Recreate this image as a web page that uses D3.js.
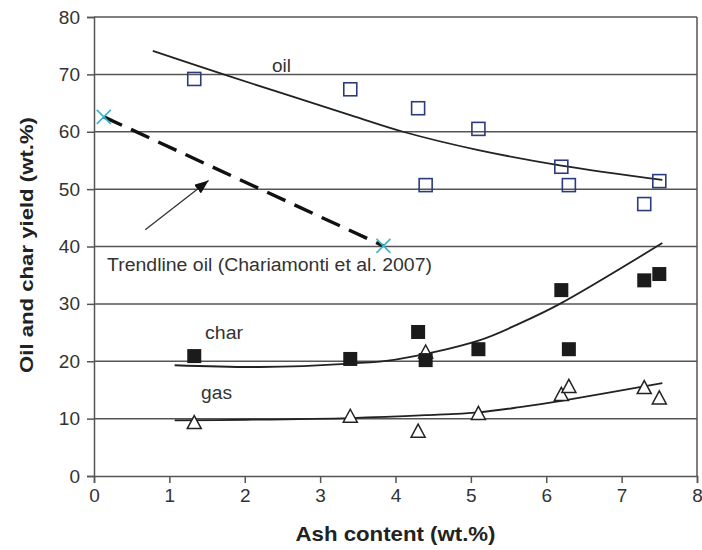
<!DOCTYPE html>
<html>
<head>
<meta charset="utf-8">
<script src="https://cdn.jsdelivr.net/npm/d3@7/dist/d3.min.js"></script>
<style>
  html, body { margin: 0; padding: 0; background: #fff; }
  svg { display: block; font-family: "Liberation Sans", Arial, Helvetica, sans-serif; }
</style>
</head>
<body>
<svg id="chart" width="702" height="550"></svg>
<script>
// Measured yields versus ash content
const ash        = [1.33, 3.4, 4.3, 4.4, 5.1, 6.2, 6.3, 7.3, 7.5];
const oilYield   = [69.2, 67.4, 64.1, 50.7, 60.5, 53.9, 50.7, 47.4, 51.4];
const charYield  = [20.9, 20.4, 25.1, 20.2, 22.1, 32.4, 22.1, 34.1, 35.2];
const gasYield   = [9.4, 10.5, 7.9, 21.7, 11.0, 14.3, 15.7, 15.5, 13.7];

// Fitted trend curves
const oilFitAsh    = [0.78, 1.72, 3.4, 4.1, 5.1, 6.2, 7.54];
const oilFitYield  = [74.1, 70.0, 62.9, 60.0, 56.8, 54.1, 51.6];
const charFitAsh   = [1.07, 2.2, 3.4, 4.0, 5.1, 5.65, 6.18, 7.54];
const charFitYield = [19.3, 19.0, 19.6, 20.3, 23.6, 26.6, 30.0, 40.6];
const gasFitAsh    = [1.07, 2.0, 3.4, 4.4, 5.1, 5.65, 6.2, 7.54];
const gasFitYield  = [9.7, 9.8, 10.1, 10.6, 11.1, 12.0, 13.1, 16.2];

// Literature oil trendline (Chariamonti et al. 2007)
const litAsh   = [0.13, 3.84];
const litYield = [62.6, 40.1];

// Annotation arrow: tail, then tip
const arrowAsh   = [0.68, 1.52];
const arrowYield = [42.9, 51.5];

// Axis ticks
const xTicks = [0, 1, 2, 3, 4, 5, 6, 7, 8];
const yTicks = [0, 10, 20, 30, 40, 50, 60, 70, 80];

const svg = d3.select("#chart");
const x = d3.scaleLinear().domain([0, 8]).range([94, 697]);
const y = d3.scaleLinear().domain([0, 80]).range([476, 17]);

const gridColor = "#555";
const textColor = "#333";

// Horizontal gridlines
svg.append("g").selectAll("line")
  .data(yTicks.filter(d => d > 0))
  .join("line")
  .attr("x1", x(0)).attr("x2", x(8))
  .attr("y1", d => y(d)).attr("y2", d => y(d))
  .attr("stroke", gridColor).attr("stroke-width", 1.5);

// Right frame edge
svg.append("line")
  .attr("x1", x(8)).attr("x2", x(8)).attr("y1", y(80)).attr("y2", y(0))
  .attr("stroke", gridColor).attr("stroke-width", 1.5);

// Axes
const yAxis = d3.axisLeft(y).tickValues(yTicks).tickSize(7).tickPadding(7).tickFormat(d3.format("d"));
const xAxis = d3.axisBottom(x).tickValues(xTicks).tickSize(7).tickPadding(6).tickFormat(d3.format("d"));

const gy = svg.append("g").attr("transform", `translate(${x(0)},0)`).call(yAxis);
const gx = svg.append("g").attr("transform", `translate(0,${y(0)})`).call(xAxis);
[gx, gy].forEach(g => {
  g.select(".domain").attr("stroke", gridColor).attr("stroke-width", 1.5);
  g.selectAll(".tick line").attr("stroke", gridColor).attr("stroke-width", 1.5);
  g.selectAll(".tick text")
    .attr("fill", textColor)
    .style("font-family", '"Liberation Sans", Arial, sans-serif')
    .style("font-size", "19px");
});

// Axis titles
svg.append("text")
  .attr("x", (x(0) + x(8)) / 2).attr("y", 541)
  .attr("text-anchor", "middle")
  .attr("textLength", 200).attr("lengthAdjust", "spacingAndGlyphs")
  .style("font-size", "21px").style("font-weight", "bold")
  .attr("fill", "#222")
  .text("Ash content (wt.%)");

svg.append("text")
  .attr("transform", "translate(33,373) rotate(-90)")
  .attr("textLength", 256).attr("lengthAdjust", "spacingAndGlyphs")
  .style("font-size", "19px").style("font-weight", "bold")
  .attr("fill", "#222")
  .text("Oil and char yield (wt.%)");

// Trend curves
const curve = d3.line().x(d => x(d[0])).y(d => y(d[1])).curve(d3.curveCatmullRom.alpha(0.5));
const fits = [
  [oilFitAsh, oilFitYield],
  [charFitAsh, charFitYield],
  [gasFitAsh, gasFitYield]
];
svg.append("g").selectAll("path")
  .data(fits.map(([a, v]) => a.map((d, i) => [d, v[i]])))
  .join("path")
  .attr("d", curve)
  .attr("fill", "none")
  .attr("stroke", "#222")
  .attr("stroke-width", 1.8);

// Literature trendline (dashed)
const litPts = litAsh.map((d, i) => [d, litYield[i]]);
svg.append("path")
  .attr("d", d3.line().x(d => x(d[0])).y(d => y(d[1]))(litPts))
  .attr("fill", "none")
  .attr("stroke", "#111")
  .attr("stroke-width", 3.4)
  .attr("stroke-dasharray", "20,10");

// Cross markers at the literature line ends
const cross = svg.append("g").selectAll("g")
  .data(litPts).join("g")
  .attr("transform", d => `translate(${x(d[0])},${y(d[1])})`);
cross.append("path")
  .attr("d", "M-7,-7L7,7M-7,7L7,-7")
  .attr("stroke", "#3cb4c6").attr("stroke-width", 1.6).attr("fill", "none");

// Gas: open triangles
const tri = 14, triH = 13;
svg.append("g").selectAll("path")
  .data(ash.map((d, i) => [d, gasYield[i]]))
  .join("path")
  .attr("transform", d => `translate(${x(d[0])},${y(d[1])})`)
  .attr("d", `M0,${-triH / 2}L${tri / 2},${triH / 2}L${-tri / 2},${triH / 2}Z`)
  .attr("fill", "#fff")
  .attr("stroke", "#222")
  .attr("stroke-width", 1.5);

// Char: filled squares
const sq = 14;
svg.append("g").selectAll("rect")
  .data(ash.map((d, i) => [d, charYield[i]]))
  .join("rect")
  .attr("x", d => x(d[0]) - sq / 2).attr("y", d => y(d[1]) - sq / 2)
  .attr("width", sq).attr("height", sq)
  .attr("fill", "#1b1b1b");

// Oil: open squares
const osq = 13;
svg.append("g").selectAll("rect")
  .data(ash.map((d, i) => [d, oilYield[i]]))
  .join("rect")
  .attr("x", d => x(d[0]) - osq / 2).attr("y", d => y(d[1]) - osq / 2)
  .attr("width", osq).attr("height", osq)
  .attr("fill", "none")
  .attr("stroke", "#2d3a7c")
  .attr("stroke-width", 1.6);

// Arrow pointing at the literature line
svg.append("defs").append("marker")
  .attr("id", "head")
  .attr("viewBox", "0 0 14 11")
  .attr("refX", 14).attr("refY", 5.5)
  .attr("markerWidth", 14).attr("markerHeight", 11)
  .attr("markerUnits", "userSpaceOnUse")
  .attr("orient", "auto")
  .append("path").attr("d", "M0,0L14,5.5L0,11Z").attr("fill", "#111");

svg.append("line")
  .attr("x1", x(arrowAsh[0])).attr("y1", y(arrowYield[0]))
  .attr("x2", x(arrowAsh[1])).attr("y2", y(arrowYield[1]))
  .attr("stroke", "#333").attr("stroke-width", 1.3)
  .attr("marker-end", "url(#head)");

// Series labels
const labels = [
  { t: "oil", x: 272, y: 72, w: 19 },
  { t: "char", x: 205, y: 339, w: 38 },
  { t: "gas", x: 201, y: 399, w: 31 },
  { t: "Trendline oil (Chariamonti et al. 2007)", x: 107, y: 271, w: 325 }
];
svg.append("g").selectAll("text")
  .data(labels).join("text")
  .attr("x", d => d.x).attr("y", d => d.y)
  .attr("textLength", d => d.w).attr("lengthAdjust", "spacingAndGlyphs")
  .style("font-size", "18px")
  .attr("fill", textColor)
  .text(d => d.t);
</script>
</body>
</html>
